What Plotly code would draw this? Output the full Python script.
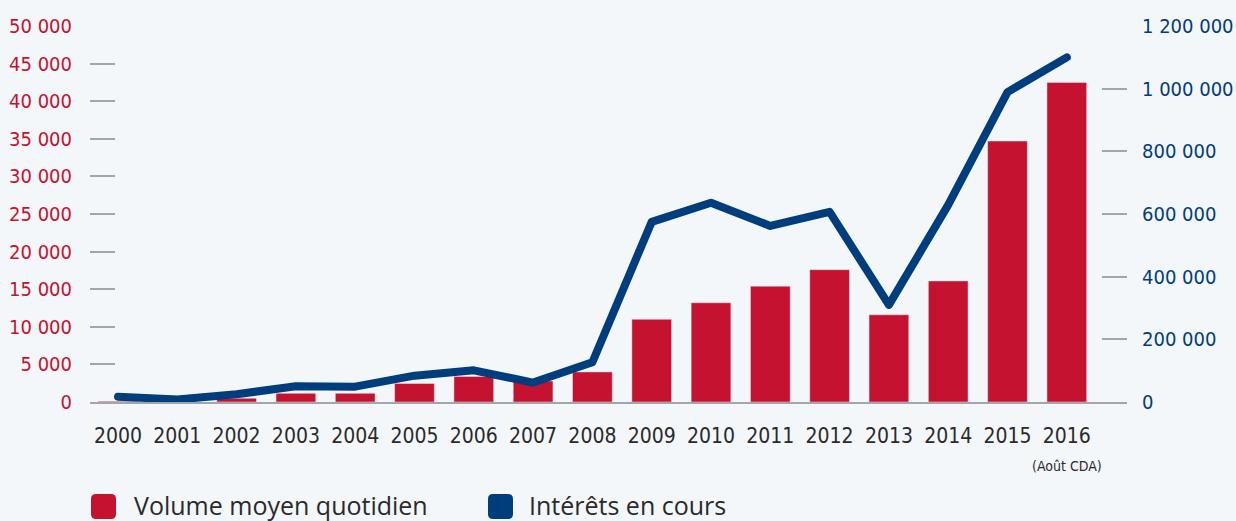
import plotly.graph_objects as go

# ---------------- data ----------------
years = list(range(2000, 2017))
year_labels = [str(y) for y in years]
volume = [100, 50, 500, 1150, 1150, 2470, 3400, 2800, 4000, 11000, 13200,
          15400, 17600, 11600, 16100, 34700, 42500]
interest = [17000, 8000, 25000, 50000, 49000, 84000, 101000, 62000, 127000,
            575000, 636000, 562000, 607000, 310000, 629000, 989000, 1100000]
left_ticks = [0, 5000, 10000, 15000, 20000, 25000, 30000, 35000, 40000, 45000, 50000]
left_labels = ["0", "5 000", "10 000", "15 000", "20 000", "25 000", "30 000",
               "35 000", "40 000", "45 000", "50 000"]
right_ticks = [0, 200000, 400000, 600000, 800000, 1000000, 1200000]
right_labels = ["0", "200 000", "400 000", "600 000", "800 000", "1 000 000", "1 200 000"]
legend_labels = ["Volume moyen quotidien", "Intérêts en cours"]
note = "(Août CDA)"

RED = "#C41230"
BLUE = "#003D7C"
BG = "#F4F7F9"
GREY = "#A3A6A8"
TXT = "#2A2A2A"
TICKFONT = "DejaVu Sans Condensed, Roboto, sans-serif"

W, H = 1236, 521
L, R, T, B = 90, 109, 26, 119
PW, PH = W - L - R, H - T - B

fig = go.Figure()
fig.add_trace(go.Bar(x=years, y=volume, marker_color=RED, width=0.67,
                     name=legend_labels[0], showlegend=False, yaxis="y"))
fig.add_trace(go.Scatter(x=years, y=interest, mode="lines",
                         line=dict(color=BLUE, width=8), name=legend_labels[1],
                         showlegend=False, yaxis="y2"))

fig.update_layout(
    width=W, height=H,
    margin=dict(l=L, r=R, t=T, b=B, pad=0, autoexpand=False),
    paper_bgcolor=BG, plot_bgcolor=BG,
    xaxis=dict(range=[1999.528, 2017.015], tickvals=years, ticktext=year_labels,
               showgrid=False, zeroline=False, showline=True, linecolor=GREY,
               linewidth=2, ticks="", ticklabelstandoff=14, automargin=False,
               tickfont=dict(family=TICKFONT, size=21, color=TXT)),
    yaxis=dict(range=[0, 50000], tickvals=left_ticks, ticktext=left_labels,
               showgrid=False, zeroline=False, showline=False, automargin=False,
               ticks="inside", ticklen=25, tickwidth=2, tickcolor=GREY,
               ticklabelstandoff=17,
               tickfont=dict(family=TICKFONT, size=20, color=RED)),
    yaxis2=dict(range=[0, 1200000], tickvals=right_ticks, ticktext=right_labels,
                overlaying="y", side="right", showgrid=False, zeroline=False,
                showline=False, ticks="inside", ticklen=25, tickwidth=2,
                tickcolor=GREY, ticklabelstandoff=14, automargin=False,
                tickfont=dict(family=TICKFONT, size=20, color=BLUE)),
    bargap=0.33,
)

# note under 2016
fig.add_annotation(x=2016, xref="x", y=(T + PH - 466) / PH, yref="paper",
                   text=note, showarrow=False, yanchor="middle",
                   font=dict(family=TICKFONT, size=14, color=TXT))


# legend drawn as rounded squares + text
def px_to_paper(px, py):
    return (px - L) / PW, (T + PH - py) / PH


def rounded_square(x0, y0, size, r):
    x1, y1 = x0 + size, y0 + size

    def P(x, y):
        return "%.5f,%.5f" % px_to_paper(x, y)
    return (f"M {P(x0 + r, y0)} L {P(x1 - r, y0)} Q {P(x1, y0)} {P(x1, y0 + r)} "
            f"L {P(x1, y1 - r)} Q {P(x1, y1)} {P(x1 - r, y1)} "
            f"L {P(x0 + r, y1)} Q {P(x0, y1)} {P(x0, y1 - r)} "
            f"L {P(x0, y0 + r)} Q {P(x0, y0)} {P(x0 + r, y0)} Z")


leg = [(91, RED, legend_labels[0], 132), (488, BLUE, legend_labels[1], 527)]
for sx, col, lab, tx in leg:
    fig.add_shape(type="path", path=rounded_square(sx, 494, 25, 5),
                  xref="paper", yref="paper", fillcolor=col, line=dict(width=0))
    xp, yp = px_to_paper(tx, 505)
    fig.add_annotation(x=xp, y=yp, xref="paper", yref="paper", text=lab,
                       showarrow=False, xanchor="left", yanchor="middle",
                       font=dict(family="Open Sans", size=25, color=TXT))

fig.write_html("out.html", config={"displayModeBar": False},
               post_script="document.body.style.margin='0';"
               "document.body.style.overflow='hidden';"
               "document.querySelectorAll('.scatterlayer path.js-line').forEach(function(p){p.style.strokeLinejoin='round';p.style.strokeLinecap='round';});")
